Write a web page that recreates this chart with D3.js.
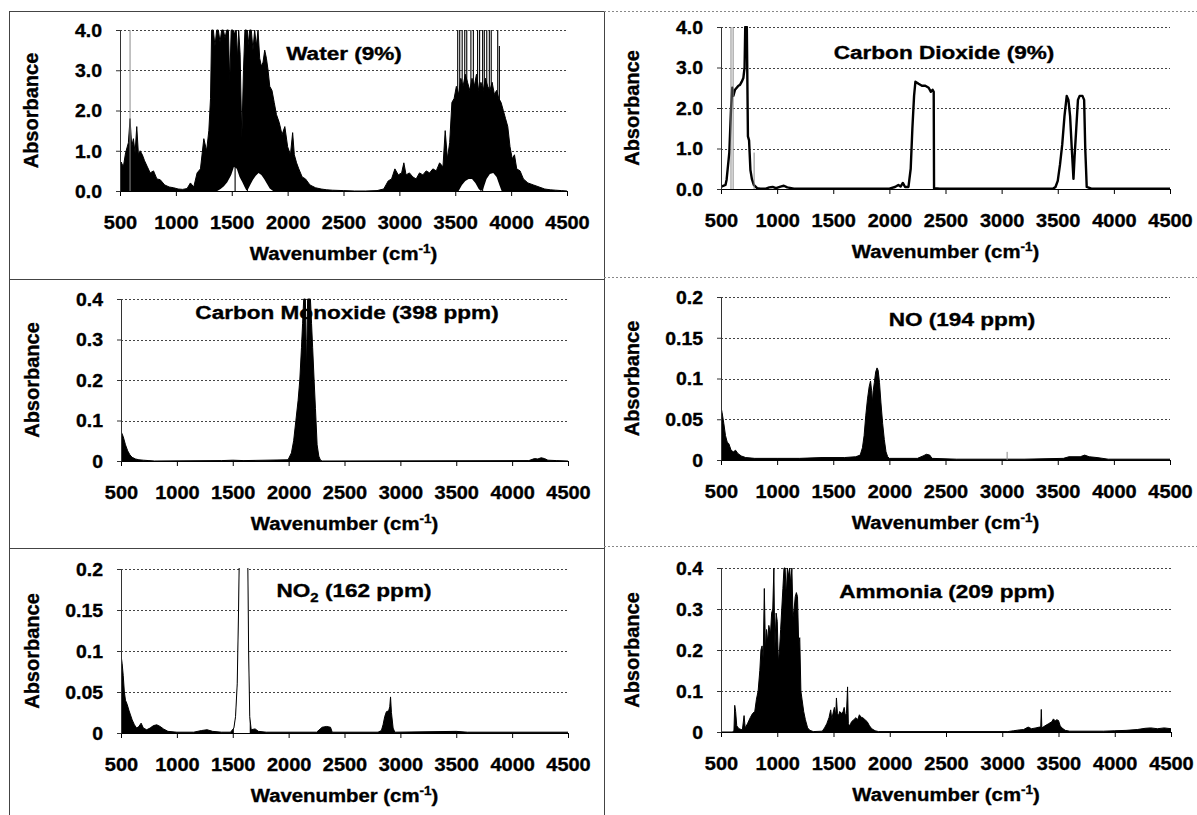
<!DOCTYPE html>
<html>
<head>
<meta charset="utf-8">
<script src="https://cdn.jsdelivr.net/npm/d3@7"></script>
<style>
  body { margin: 0; background: #fff; }
  svg { display: block; }
  text { font-family: "Liberation Sans", Arial, Helvetica, sans-serif; font-weight: bold; fill: #000;
         stroke: #000; stroke-width: 0.35px; }
</style>
</head>
<body>
<svg id="chart" width="1197" height="815"></svg>
<script>
// ---------- shared axis ticks ----------
const xTicks = [500, 1000, 1500, 2000, 2500, 3000, 3500, 4000, 4500];
const yTicksWhole = [0, 1, 2, 3, 4];
const yTicksTenths = [0, 0.1, 0.2, 0.3, 0.4];
const yTicksTwentieths = [0, 0.05, 0.1, 0.15, 0.2];

// ---------- Water (9%) ----------
const waterWn = [
  500,510,530,550,575,590,605,620,635,650,
  665,680,700,720,745,770,800,830,860,900,
  940,980,1020,1060,1100,1130,1160,1190,1220,1250,
  1275,1295,1310,1320,1335,1350,1365,1380,1395,1410,
  1425,1440,1455,1470,1482,1495,1510,1525,1540,1552,
  1562,1575,1590,1605,1618,1632,1645,1660,1675,1690,
  1705,1720,1735,1750,1765,1780,1795,1810,1825,1840,
  1860,1880,1900,1925,1950,1975,2000,2025,2045,2060,
  2080,2100,2130,2160,2200,2250,2300,2350,2400,2500,
  2600,2700,2800,2860,2900,2930,2960,2990,3020,3040,
  3060,3090,3120,3150,3180,3210,3240,3270,3300,3330,
  3360,3390,3410,3430,3450,3470,3490,3510,3530,3550,
  3570,3590,3610,3630,3650,3670,3690,3710,3730,3750,
  3770,3790,3810,3830,3850,3870,3890,3910,3930,3950,
  3970,3990,4010,4030,4050,4080,4110,4150,4200,4250,
  4300,4350,4400,4450,4500];
const waterAbs = [
  0.65,0.72,0.6,0.95,1.2,1.8,1.1,1.3,0.95,1.6,
  0.9,1.0,0.9,0.75,0.6,0.45,0.5,0.3,0.28,0.15,
  0.1,0.08,0.05,0.04,0.06,0.2,0.1,0.45,0.55,1.3,
  1.0,1.5,2.3,4.0,4.0,3.6,4.0,4.0,3.7,4.0,
  4.0,3.8,4.0,4.0,2.7,4.0,4.0,3.9,4.0,3.3,
  4.0,3.4,1.3,3.0,4.0,4.0,3.6,4.0,4.0,3.5,
  4.0,3.6,4.0,3.3,3.1,3.2,3.5,3.3,3.0,2.6,
  2.5,2.2,1.9,1.7,1.4,1.6,1.1,0.9,1.45,0.9,
  0.7,0.55,0.35,0.3,0.15,0.08,0.05,0.03,0.02,0.01,
  0.0,0.0,0.01,0.05,0.25,0.3,0.55,0.4,0.45,0.7,
  0.4,0.45,0.35,0.3,0.45,0.4,0.5,0.45,0.55,0.5,
  0.7,0.6,1.5,0.8,1.2,2.2,2.3,2.6,2.4,2.8,
  2.6,2.9,2.7,2.5,2.8,2.6,2.9,2.5,2.7,2.5,
  2.8,2.6,2.5,2.7,2.4,2.5,2.3,2.2,2.0,1.8,
  1.6,1.1,0.8,0.9,0.55,0.5,0.3,0.2,0.15,0.1,
  0.05,0.03,0.02,0.01,0.0];
// open (white) regions under the two bands
const waterGapWn = [1370,1400,1430,1460,1495,1520,1545,1570,1595,1615,1630,1645,1665,1690,1715,1740,1765,1790,1815,1840,1870,
                    3530,3560,3590,3620,3650,3680,3710,3730,3750,3780,3810,3840,3870,3895,3915];
const waterGap = [0,0.05,0.12,0.22,0.4,0.6,0.55,0.35,0.22,0.1,0.02,0.04,0.15,0.28,0.38,0.45,0.4,0.3,0.18,0.06,0,
                  0,0.15,0.25,0.3,0.3,0.2,0.05,0,0.05,0.3,0.42,0.45,0.35,0.15,0];
// single rotational lines: [wavenumber, from, to]
const waterLines = [[1530,0,4],[1640,0,4],[3522,1.5,4],[3540,1.5,4],[3562,1.5,4],[3585,1.5,4],[3603,1.5,4],
                    [3640,1.5,4],[3662,1.5,4],[3700,1.5,4],[3718,1.5,4],[3745,0,4],[3760,1.5,4],[3782,1.5,4],
                    [3805,1.5,4],[3822,1.5,4],[3880,1.5,4],[3895,1.5,3.6]];
const waterFaint = [[590,0,4]];

// ---------- Carbon Dioxide (9%) ----------
const co2Wn = [500,520,540,550,574,589,600,610,625,640,655,669,685,699,710,716,730,740,750,
  762,775,792,822,850,900,930,960,990,1030,1060,1090,1150,1500,2000,2050,2080,2100,2120,2140,
  2170,2190,2205,2220,2232,2260,2290,2320,2350,2370,2385,2395,2398,2450,3000,3460,3480,3500,3520,3540,
  3560,3580,3595,3610,3625,3640,3650,3665,3680,3695,3720,3735,3745,3752,3758,3800,4000,4500];
const co2Abs = [0.05,0.08,0.1,0.23,0.9,1.96,2.5,2.3,2.45,2.5,2.55,2.57,2.65,2.74,3.0,4.0,4.0,1.3,1.2,
  0.47,0.25,0.1,0.02,0.01,0.01,0.04,0.05,0.02,0.06,0.08,0.04,0.01,0.01,0.01,0.05,0.1,0.06,0.15,0.05,
  0.05,0.5,1.5,2.3,2.65,2.6,2.55,2.55,2.5,2.4,2.45,2.4,0.02,0.01,0.01,0.01,0.05,0.2,0.6,1.1,
  1.8,2.3,2.2,1.8,1.0,0.25,0.8,1.5,2.2,2.3,2.3,2.2,1.0,0.5,0.05,0.01,0.01,0.01];
const co2Faint = [[589,0,4],[608,0,4],[795,0,0.9]];

// ---------- Carbon Monoxide (398 ppm) ----------
const coWn = [500,505,520,540,560,580,600,630,660,700,750,800,1400,1500,1600,1995,2025,2045,2065,2085,
  2100,2115,2125,2135,2150,2160,2170,2195,2205,2215,2228,2240,2255,2270,2285,2300,4150,4200,4230,4260,
  4290,4320,4400,4500];
const coAbs = [0.1,0.07,0.06,0.04,0.025,0.015,0.009,0.005,0.003,0.002,0.001,0,0.001,0.002,0.001,0.003,0.02,0.05,0.1,0.15,
  0.2,0.28,0.34,0.4,0.4,0.22,0.4,0.4,0.34,0.28,0.2,0.13,0.04,0.012,0.002,0,0.001,0.006,0.005,0.008,
  0.006,0.002,0.001,0];

// ---------- NO (194 ppm) ----------
const noWn = [500,510,525,540,555,570,590,610,630,650,680,720,800,1000,1200,1400,1600,1700,1740,1760,
  1775,1790,1805,1820,1832,1842,1848,1856,1866,1878,1890,1900,1912,1925,1940,1955,1970,1985,2000,2250,
  2300,2330,2360,2380,2600,3200,3550,3600,3700,3740,3780,3850,3950,4500];
const noAbs = [0.065,0.058,0.045,0.03,0.022,0.02,0.012,0.01,0.012,0.008,0.005,0.003,0.002,0.002,0.002,0.003,0.003,0.004,0.006,0.015,
  0.03,0.055,0.075,0.09,0.097,0.085,0.07,0.085,0.095,0.108,0.113,0.11,0.095,0.07,0.045,0.025,0.01,0.004,0.002,0.002,
  0.005,0.007,0.006,0.002,0.001,0.001,0.002,0.004,0.004,0.006,0.004,0.003,0.001,0.001];
const noFaint = [[3049,0,0.01]];

// ---------- NO2 (162 ppm) ----------
const no2Wn = [500,510,520,530,540,555,570,585,600,620,640,660,680,700,730,760,790,820,850,880,
  920,1000,1150,1220,1270,1320,1400,1480,1510,1525,1540,1552,1562,1600,1632,1642,1652,1665,1700,1730,
  1800,2250,2300,2340,2375,2390,2800,2830,2845,2860,2875,2895,2905,2912,2920,2935,2950,3500,3600,4500];
const no2Abs = [0.095,0.085,0.07,0.05,0.04,0.035,0.028,0.022,0.016,0.01,0.006,0.008,0.012,0.006,0.004,0.006,0.009,0.01,0.008,0.005,
  0.002,0.001,0.001,0.003,0.004,0.002,0.001,0.001,0.006,0.02,0.06,0.15,0.25,0.25,0.25,0.1,0.02,0.004,0.005,0.002,
  0.001,0.001,0.007,0.008,0.007,0.001,0.001,0.003,0.01,0.02,0.026,0.027,0.032,0.044,0.025,0.006,0.001,0.002,0.001,0.001];
// the saturated band near 1600 shows only its edges
const no2GapWn = [1510,1525,1540,1552,1562,1600,1632,1642,1652];
const no2Gap = [0.006,0.02,0.06,0.15,0.25,0.25,0.25,0.1,0.02];

// ---------- Ammonia (209 ppm) ----------
const nh3Wn = [500,600,615,622,630,640,660,690,705,715,
  735,760,780,800,815,830,845,855,865,875,
  885,895,905,915,925,940,950,960,970,978,
  990,1000,1010,1020,1030,1040,1050,1060,1070,1080,
  1090,1100,1110,1120,1130,1140,1150,1160,1170,1180,
  1190,1200,1210,1220,1235,1250,1270,1290,1320,1400,
  1420,1440,1460,1475,1485,1495,1508,1520,1526,1535,
  1545,1555,1570,1585,1595,1605,1615,1625,1632,1645,
  1660,1680,1700,1715,1730,1745,1760,1780,1800,1820,
  1840,1870,1900,2500,3050,3100,3150,3190,3230,3260,
  3300,3330,3342,3347,3352,3380,3410,3440,3455,3470,
  3485,3500,3515,3530,3560,3600,3900,4000,4100,4200,
  4270,4320,4380,4440,4500];
const nh3Abs = [0,0,0.003,0.065,0.05,0.015,0.008,0.005,0.04,0.01,
  0.02,0.035,0.045,0.05,0.08,0.1,0.15,0.2,0.21,0.18,
  0.35,0.2,0.25,0.22,0.26,0.24,0.29,0.3,0.4,0.2,
  0.29,0.27,0.17,0.2,0.25,0.3,0.35,0.4,0.4,0.33,
  0.4,0.38,0.4,0.36,0.4,0.28,0.3,0.33,0.34,0.33,
  0.22,0.23,0.1,0.08,0.05,0.03,0.01,0.004,0.001,0.002,
  0.01,0.02,0.035,0.054,0.03,0.045,0.06,0.04,0.083,0.045,
  0.04,0.05,0.045,0.05,0.06,0.04,0.045,0.11,0.02,0.015,
  0.025,0.03,0.035,0.03,0.042,0.036,0.035,0.03,0.025,0.015,
  0.008,0.003,0.001,0.001,0.001,0.003,0.005,0.006,0.012,0.008,
  0.01,0.012,0.012,0.055,0.01,0.015,0.02,0.025,0.032,0.027,
  0.03,0.028,0.015,0.01,0.004,0.002,0.002,0.003,0.004,0.006,
  0.009,0.01,0.008,0.01,0.008];

// ---------- panel layout ----------
const svg = d3.select("#chart");
const defs = svg.append("defs");

const panels = [
  { id: "water", title: [["Water (9%)"]], wn: waterWn, abs: waterAbs, gapWn: waterGapWn, gap: waterGap,
    lines: waterLines, faint: waterFaint, yMax: 4, yTicks: yTicksWhole, fmt: d3.format(".1f"),
    x0: 120, x1: 567, yTop: 30, yBot: 191, tx: 344, ty: 60, fill: true, lw: 1 },
  { id: "co2", title: [["Carbon Dioxide (9%)"]], wn: co2Wn, abs: co2Abs, faint: co2Faint,
    yMax: 4, yTicks: yTicksWhole, fmt: d3.format(".1f"),
    x0: 721, x1: 1170, yTop: 27, yBot: 189, tx: 944, ty: 59, fill: false, lw: 2.4 },
  { id: "co", title: [["Carbon Monoxide (398 ppm)"]], wn: coWn, abs: coAbs, faint: [[500,0,0.1]],
    yMax: 0.4, yTicks: yTicksTenths, fmt: d3.format(""),
    x0: 121, x1: 568, yTop: 299, yBot: 461, tx: 347, ty: 319, fill: true, lw: 1 },
  { id: "no", title: [["NO (194 ppm)"]], wn: noWn, abs: noAbs, faint: noFaint,
    yMax: 0.2, yTicks: yTicksTwentieths, fmt: d3.format(""),
    x0: 721, x1: 1170, yTop: 297, yBot: 460, tx: 962, ty: 326, fill: true, lw: 1 },
  { id: "no2", title: [["NO"], ["2", "sub"], [" (162 ppm)"]], wn: no2Wn, abs: no2Abs, gapWn: no2GapWn, gap: no2Gap,
    yMax: 0.2, yTicks: yTicksTwentieths, fmt: d3.format(""),
    x0: 121, x1: 568, yTop: 569, yBot: 733, tx: 354, ty: 597, fill: true, lw: 1 },
  { id: "nh3", title: [["Ammonia (209 ppm)"]], wn: nh3Wn, abs: nh3Abs,
    yMax: 0.4, yTicks: yTicksTenths, fmt: d3.format(""),
    x0: 721, x1: 1171, yTop: 568, yBot: 732, tx: 947, ty: 598, fill: true, lw: 1 }
];

// ---------- frames around the figure cells ----------
const frame = svg.append("g").attr("fill", "none");
[[11, 279], [279, 548], [548, 830]].forEach(([t, b]) => {
  frame.append("rect").attr("x", 9.5).attr("y", t + 0.5).attr("width", 595).attr("height", b - t)
    .attr("stroke", "#444").attr("stroke-width", 1);
});
[11, 277, 546].forEach(yy => {
  frame.append("line").attr("x1", 604).attr("x2", 1197).attr("y1", yy + 0.5).attr("y2", yy + 0.5)
    .attr("stroke", "#888").attr("stroke-dasharray", "2,2");
});

// stretched bold label helper
function label(g, x, y, parts, size, sx, opts = {}) {
  const t = g.append("text")
    .attr("transform", `translate(${x},${y}) scale(${sx},1)` + (opts.rotate ? ` rotate(${opts.rotate})` : ""))
    .attr("text-anchor", opts.anchor || "middle")
    .attr("font-size", size);
  if (opts.dy) t.attr("dy", opts.dy);
  let shift = 0;
  parts.forEach(([s, kind]) => {
    const ts = t.append("tspan").text(s);
    const want = kind === "sup" ? -7 : kind === "sub" ? 5 : 0;
    if (want !== shift) ts.attr("dy", want - shift);
    if (kind) ts.attr("font-size", size * 0.66);
    shift = want;
  });
  return t;
}

panels.forEach(p => {
  const g = svg.append("g").attr("class", "panel-" + p.id);
  const x = d3.scaleLinear().domain([500, 4500]).range([p.x0, p.x1]);
  const y = d3.scaleLinear().domain([0, p.yMax]).range([p.yBot, p.yTop]);

  defs.append("clipPath").attr("id", "clip-" + p.id)
    .append("rect").attr("x", p.x0).attr("y", p.yTop - 1)
    .attr("width", p.x1 - p.x0 + 1).attr("height", p.yBot - p.yTop + 1);

  // horizontal gridlines
  g.append("g").selectAll("line").data(p.yTicks.filter(v => v > 0)).join("line")
    .attr("x1", p.x0).attr("x2", p.x1)
    .attr("y1", d => Math.round(y(d)) + 0.5).attr("y2", d => Math.round(y(d)) + 0.5)
    .attr("stroke", "#444").attr("stroke-width", 1).attr("stroke-dasharray", "2,2");

  const plot = g.append("g").attr("clip-path", `url(#clip-${p.id})`);
  const pts = p.wn.map((w, i) => [w, p.abs[i]]);
  const area = d3.area().x(d => x(d[0])).y0(y(0)).y1(d => y(d[1]));
  const line = d3.line().x(d => x(d[0])).y(d => y(d[1]));

  if (p.fill) plot.append("path").datum(pts).attr("d", area).attr("fill", "#000");
  if (p.gapWn) {
    plot.append("path").datum(p.gapWn.map((w, i) => [w, p.gap[i]]))
      .attr("d", area).attr("fill", "#fff");
  }
  plot.append("path").datum(pts).attr("d", line)
    .attr("fill", "none").attr("stroke", "#000").attr("stroke-width", p.lw)
    .attr("stroke-linejoin", "round");

  if (p.faint) {
    plot.append("g").selectAll("line").data(p.faint).join("line")
      .attr("x1", d => x(d[0])).attr("x2", d => x(d[0]))
      .attr("y1", d => y(d[1])).attr("y2", d => y(d[2]))
      .attr("stroke", "#8a8a8a").attr("stroke-width", 1);
  }
  if (p.lines) {
    plot.append("g").selectAll("line").data(p.lines).join("line")
      .attr("x1", d => x(d[0])).attr("x2", d => x(d[0]))
      .attr("y1", d => y(d[1])).attr("y2", d => y(d[2]))
      .attr("stroke", "#000").attr("stroke-width", 1.1);
  }

  // x axis
  const xa = g.append("g").attr("transform", `translate(0,${p.yBot})`)
    .call(d3.axisBottom(x).tickValues(xTicks).tickSize(5).tickSizeOuter(0).tickFormat(d3.format("d")));
  xa.attr("font-family", null).attr("font-size", null);
  xa.select(".domain").attr("stroke", "#000");
  xa.selectAll(".tick line").attr("stroke", "#000");
  xa.selectAll(".tick text").attr("y", 38).attr("dy", null)
    .attr("font-size", 18.5).attr("transform", "scale(1.08,1)");

  // y axis
  const sxY = 1.08;
  const ya = g.append("g").attr("transform", `translate(${p.x0},0)`)
    .call(d3.axisLeft(y).tickValues(p.yTicks).tickSize(4).tickSizeOuter(0).tickFormat(p.fmt));
  ya.attr("font-family", null).attr("font-size", null);
  ya.select(".domain").attr("stroke", "#333");
  ya.selectAll(".tick line").attr("stroke", "#333");
  ya.selectAll(".tick text").attr("x", -18 / sxY).attr("dy", "0.36em")
    .attr("font-size", 18).attr("transform", `scale(${sxY},1)`);

  // titles
  label(g, p.tx, p.ty, p.title, 18.5, 1.22);
  label(g, (p.x0 + p.x1) / 2, p.yBot + 69, [["Wavenumber (cm"], ["-1", "sup"], [")"]], 18.5, 1.1);
  label(g, p.x0 - 89, (p.yTop + p.yBot) / 2, [["Absorbance"]], 20, 1, { rotate: -90, dy: "0.36em" });
});
</script>
</body>
</html>
